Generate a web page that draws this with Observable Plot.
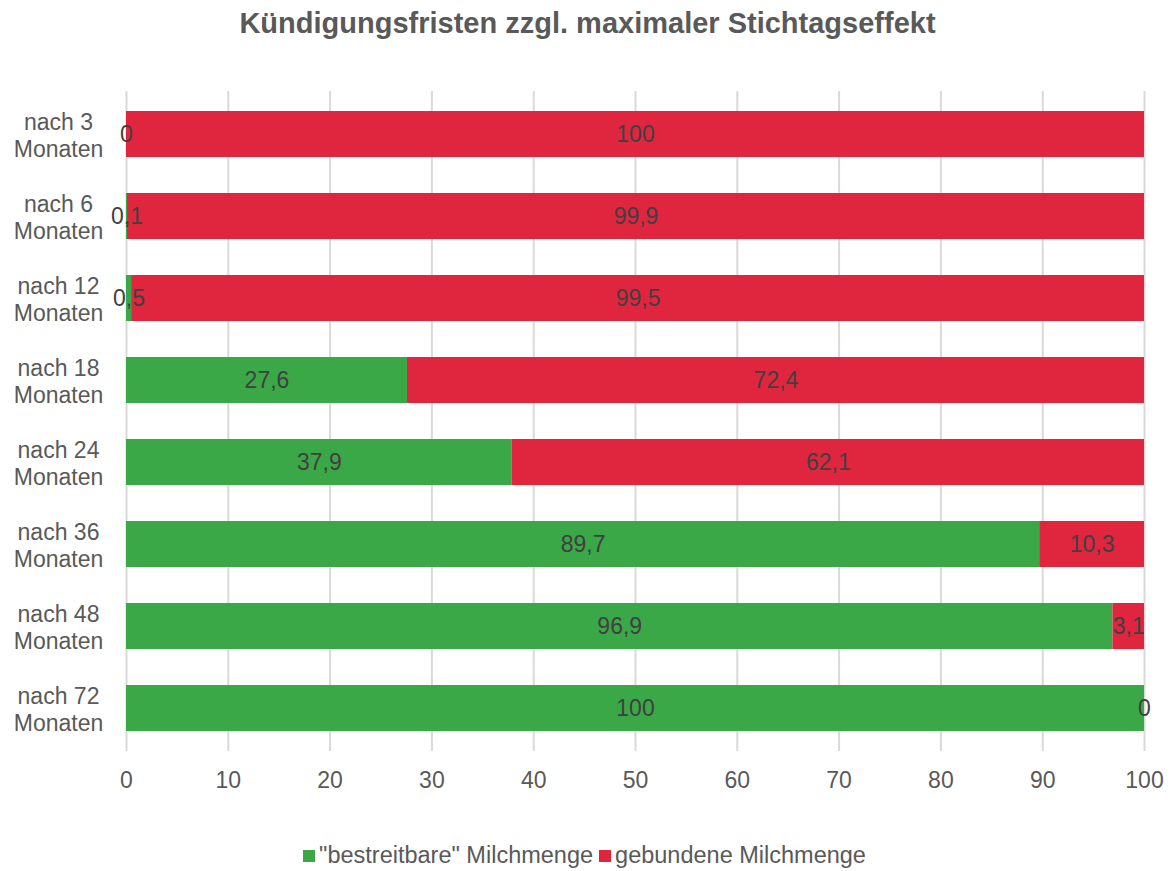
<!DOCTYPE html>
<html>
<head>
<meta charset="utf-8">
<script src="https://cdn.jsdelivr.net/npm/d3@7"></script>
<script src="https://cdn.jsdelivr.net/npm/@observablehq/plot@0.6"></script>
<style>
  body { margin: 0; background: #fff; font-family: "Liberation Sans", Arial, sans-serif; }
  #wrap { width: 1175px; height: 871px; position: relative; overflow: hidden; }
  #title { height: 60px; text-align: center; font-weight: bold; font-size: 29px; color: #595959; line-height: 46px; }
  #chart svg { display: block; }
  #legend { position: absolute; top: 842px; left: 0; width: 1175px; display: flex; justify-content: center; align-items: center; font-size: 23.5px; color: #595959; }
  .sw { width: 12px; height: 12px; display: inline-block; margin-right: 4px; }
  .item { display: flex; align-items: center; margin-right: 6px; }
</style>
</head>
<body>
<div id="wrap">
  <div id="title">Kündigungsfristen zzgl. maximaler Stichtagseffekt</div>
  <div id="chart"></div>
  <div id="legend"></div>
</div>
<script>
const categories = ["nach 3\nMonaten", "nach 6\nMonaten", "nach 12\nMonaten", "nach 18\nMonaten", "nach 24\nMonaten", "nach 36\nMonaten", "nach 48\nMonaten", "nach 72\nMonaten"];
const seriesNames = ["\"bestreitbare\" Milchmenge", "gebundene Milchmenge"];
const bestreitbar = [0, 0.1, 0.5, 27.6, 37.9, 89.7, 96.9, 100];
const gebunden = [100, 99.9, 99.5, 72.4, 62.1, 10.3, 3.1, 0];
const xTicks = [0, 10, 20, 30, 40, 50, 60, 70, 80, 90, 100];
const colors = ["#3BA847", "#E0253F"];

const rows = [];
categories.forEach((c, i) => {
  rows.push({cat: c, series: seriesNames[0], value: bestreitbar[i]});
  rows.push({cat: c, series: seriesNames[1], value: gebunden[i]});
});
const fmt = v => String(v).replace(".", ",");

const chart = Plot.plot({
  width: 1175,
  height: 770,
  marginTop: 31,
  marginBottom: 79,
  marginLeft: 126,
  marginRight: 31,
  style: {fontFamily: "'Liberation Sans', Arial, sans-serif", fontSize: "23px", color: "#595959", background: "white"},
  x: {domain: [0, 100], axis: null, label: null},
  y: {domain: categories, paddingInner: 0.44, paddingOuter: 0.22, axis: null, label: null},
  color: {domain: seriesNames, range: colors},
  marks: [
    Plot.ruleX(xTicks, {x: d => d, stroke: "#d9d9d9", strokeWidth: 2}),
    Plot.barX(rows, Plot.stackX({x: "value", y: "cat", fill: "series", order: seriesNames})),
    Plot.text(rows, Plot.stackX({x: "value", y: "cat", z: "series", order: seriesNames, text: d => fmt(d.value), fill: "#404040", fontSize: 23})),
    Plot.text(categories, {y: d => d, text: d => d, frameAnchor: "left", dx: -68, textAnchor: "middle", lineHeight: 1.2, fill: "#595959", fontSize: 23}),
    Plot.axisX({ticks: xTicks, tickSize: 0, tickPadding: 20, tickFormat: d => String(d), fontSize: 23, label: null})
  ]
});
document.getElementById("chart").appendChild(chart);

const legend = document.getElementById("legend");
seriesNames.forEach((s, i) => {
  const it = document.createElement("span");
  it.className = "item";
  const sw = document.createElement("span");
  sw.className = "sw";
  sw.style.background = colors[i];
  it.appendChild(sw);
  it.appendChild(document.createTextNode(s));
  legend.appendChild(it);
});
</script>
</body>
</html>
